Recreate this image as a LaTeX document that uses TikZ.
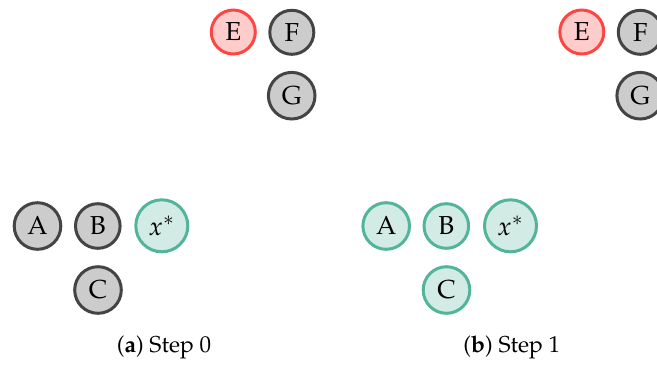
\documentclass[tikz,border=0pt]{standalone}
\usepackage[T1]{fontenc}
\usepackage{mathpazo}
\begin{document}
\begin{tikzpicture}[x=0.5pt,y=-0.5pt,
  nd/.style={circle,inner sep=0pt,line width=1.5pt,font=\fontsize{13}{15}\selectfont},
  gnode/.style={nd,draw=gstroke,fill=gfill},
  rnode/.style={nd,draw=rstroke,fill=rfill},
  tnode/.style={nd,draw=tstroke,fill=tfill},
  captext/.style={font=\fontsize{11.5}{14}\selectfont,inner sep=0pt}]
\definecolor{gstroke}{HTML}{444444}
\definecolor{gfill}{HTML}{CCCCCC}
\definecolor{rstroke}{HTML}{FF4444}
\definecolor{rfill}{HTML}{FFCCCC}
\definecolor{tstroke}{HTML}{52B59A}
\definecolor{tfill}{HTML}{D2EBE4}
\useasboundingbox (0,0) rectangle (657,365);
% panel a
\node[gnode,minimum size=23.3pt] (aA) at (37.5,226) {A};
\node[gnode,minimum size=22.3pt] (aB) at (97.8,226) {B};
\node[tnode,minimum size=26pt] (aX) at (161.8,225.8) {$x^*$};
\node[gnode,minimum size=23.3pt] (aC) at (98,290) {C};
\node[rnode,minimum size=22pt] (aE) at (233.3,32) {E};
\node[gnode,minimum size=22pt] (aF) at (291.8,32.3) {F};
\node[gnode,minimum size=23.3pt] (aG) at (291.7,95.7) {G};
\node[captext] (capa) at (164,347.5) {(\textbf{a}) Step 0};
% panel b
\node[tnode,minimum size=23.3pt] (bA) at (386.2,226) {A};
\node[tnode,minimum size=22.3pt] (bB) at (446.3,226) {B};
\node[tnode,minimum size=26pt] (bX) at (510.5,225.8) {$x^*$};
\node[tnode,minimum size=23.3pt] (bC) at (446.5,290) {C};
\node[rnode,minimum size=22pt] (bE) at (581.8,32) {E};
\node[gnode,minimum size=22pt] (bF) at (640.3,32.3) {F};
\node[gnode,minimum size=23.3pt] (bG) at (640.2,95.7) {G};
\node[captext] (capb) at (511.8,347.5) {(\textbf{b}) Step 1};
\end{tikzpicture}
\end{document}
